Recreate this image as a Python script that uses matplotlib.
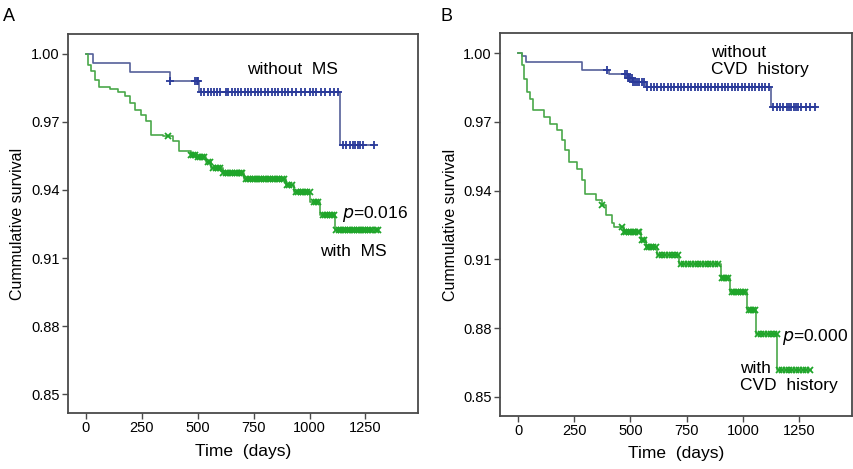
import numpy as np
import matplotlib
matplotlib.use("Agg")
import matplotlib.pyplot as plt

plt.rcParams['font.family'] = ['Liberation Sans', 'DejaVu Sans']

# ---- Panel A: metabolic syndrome ----
a_noms_t = [0, 30, 199, 377, 507, 1137, 1290]
a_noms_s = [1.0, 0.9960, 0.9920, 0.9879, 0.9830, 0.9596, 0.9596]
a_noms_cens = [377, 490, 495, 500, 515, 530, 545, 560, 575, 585, 600, 625, 635, 655, 665,
               680, 695, 710, 725, 740, 755, 770, 785, 800, 815, 830, 845, 860, 875, 890,
               905, 920, 940, 960, 980, 1000, 1015, 1030, 1050, 1070, 1090, 1110, 1128,
               1150, 1165, 1180, 1195, 1205, 1215, 1225, 1240, 1290]

a_ms_t = [0, 10, 25, 40, 59, 107, 144, 173, 196, 218, 248, 270, 292, 344, 388, 418, 470,
          492, 537, 559, 611, 707, 893, 930, 1004, 1048, 1112, 1308]
a_ms_s = [1.0, 0.9950, 0.9921, 0.9884, 0.9852, 0.9843, 0.9829, 0.9811, 0.9782, 0.9753,
          0.9731, 0.9701, 0.9643, 0.9635, 0.9613, 0.9570, 0.9555, 0.9545, 0.9523, 0.9496,
          0.9474, 0.9448, 0.9423, 0.9390, 0.9347, 0.9291, 0.9223, 0.9223]
a_ms_cens = [368, 470, 480, 490, 500, 510, 520, 530, 545, 555, 570, 580, 590, 600, 615, 625,
             635, 645, 655, 665, 675, 685, 695, 700, 715, 725, 735, 745, 755, 765, 775, 785,
             795, 805, 815, 825, 835, 845, 855, 865, 875, 885, 900, 910, 920, 940, 950, 960,
             970, 980, 990, 1000, 1020, 1030, 1040, 1060, 1070, 1080, 1090, 1100, 1110, 1120,
             1130, 1140, 1150, 1160, 1170, 1180, 1190, 1200, 1210, 1220, 1230, 1240, 1250,
             1260, 1270, 1280, 1295, 1308]

# ---- Panel B: CVD history ----
b_nocvd_t = [0, 18, 37, 286, 405, 487, 509, 567, 1125, 1326]
b_nocvd_s = [1.0, 0.9985, 0.9962, 0.9927, 0.9910, 0.9891, 0.9874, 0.9850, 0.9765, 0.9765]
b_nocvd_cens = [397, 475, 485, 490, 495, 500, 505, 510, 520, 530, 540, 550, 560, 575, 590,
                605, 620, 635, 650, 665, 680, 695, 710, 725, 740, 755, 770, 785, 800, 815,
                830, 845, 860, 875, 890, 905, 920, 935, 950, 965, 980, 995, 1010, 1025, 1040,
                1055, 1070, 1085, 1100, 1115, 1135, 1150, 1165, 1180, 1195, 1205, 1215, 1225,
                1235, 1245, 1260, 1280, 1300, 1320]

b_cvd_t = [0, 18, 25, 40, 55, 65, 115, 144, 174, 196, 211, 226, 263, 286, 300, 345, 375,
           390, 420, 427, 472, 545, 567, 619, 716, 902, 943, 1018, 1058, 1152, 1303]
b_cvd_s = [1.0, 0.9946, 0.9888, 0.9830, 0.9801, 0.9750, 0.9721, 0.9692, 0.9663, 0.9619,
           0.9576, 0.9525, 0.9496, 0.9445, 0.9387, 0.9358, 0.9336, 0.9293, 0.9257, 0.9242,
           0.9221, 0.9183, 0.9154, 0.9120, 0.9078, 0.9019, 0.8958, 0.8878, 0.8773, 0.8616,
           0.8616]
b_cvd_cens = [375, 462, 472, 482, 492, 502, 512, 522, 532, 540, 550, 560, 572, 582, 592,
              602, 612, 625, 640, 655, 670, 685, 700, 710, 725, 740, 755, 770, 785, 800,
              815, 830, 845, 860, 875, 890, 905, 915, 925, 935, 950, 960, 970, 980, 990,
              1000, 1010, 1025, 1035, 1045, 1055, 1065, 1080, 1095, 1110, 1125, 1140, 1150,
              1160, 1175, 1190, 1205, 1220, 1235, 1250, 1265, 1280, 1300]

BLUE_LINE = '#55609a'
BLUE_MARK = '#2a3a9a'
GREEN_LINE = '#4aa84a'
GREEN_MARK = '#1fa52a'
SPINE = '#4a4a4a'


def surv_at(times, surv, t):
    i = np.searchsorted(times, t, side='right') - 1
    return np.asarray(surv)[i]


def draw_km(ax, t, s, cens, lc, mc, marker, ms):
    ax.step(t, s, where='post', color=lc, lw=1.2, zorder=2)
    cy = [surv_at(t, s, c) for c in cens]
    ax.plot(cens, cy, ls='none', marker=marker, ms=ms, mew=1.3, color=mc, zorder=3)


def style_ax(ax):
    ax.set_xlim(-80, 1485)
    ax.set_ylim(0.8418, 1.0086)
    ax.set_xticks([0, 250, 500, 750, 1000, 1250])
    ax.set_yticks([0.85, 0.88, 0.91, 0.94, 0.97, 1.00])
    ax.set_yticklabels(['0.85', '0.88', '0.91', '0.94', '0.97', '1.00'])
    ax.tick_params(axis='both', direction='out', length=4, width=1, color=SPINE,
                   labelsize=10.5, pad=2)
    for sp in ax.spines.values():
        sp.set_color(SPINE)
        sp.set_linewidth(1.3)
    ax.set_xlabel('Time  (days)', fontsize=12.5, labelpad=6)
    ax.set_ylabel('Cummulative survival', fontsize=11.5, labelpad=4)


fig = plt.figure(figsize=(8.54, 4.69), dpi=100)
axA = fig.add_axes([0.0796, 0.1194, 0.4099, 0.8081])
axB = fig.add_axes([0.5855, 0.1136, 0.4122, 0.8154])

draw_km(axA, a_noms_t, a_noms_s, a_noms_cens, BLUE_LINE, BLUE_MARK, '+', 5.5)
draw_km(axA, a_ms_t, a_ms_s, a_ms_cens, GREEN_LINE, GREEN_MARK, 'x', 4)
style_ax(axA)
axA.text(720, 0.9928, 'without  MS', fontsize=12.5, va='center', ha='left')
axA.text(1143, 0.9292, r'$\it{p}$=0.016', fontsize=12.5, va='center', ha='left')
axA.text(1045, 0.9129, 'with  MS', fontsize=12.5, va='center', ha='left')

draw_km(axB, b_nocvd_t, b_nocvd_s, b_nocvd_cens, BLUE_LINE, BLUE_MARK, '+', 5.5)
draw_km(axB, b_cvd_t, b_cvd_s, b_cvd_cens, GREEN_LINE, GREEN_MARK, 'x', 4)
style_ax(axB)
axB.text(856, 0.9966, 'without\nCVD  history', fontsize=12.5, va='center', ha='left',
         linespacing=1.15)
axB.text(1174, 0.876, r'$\it{p}$=0.000', fontsize=12.5, va='center', ha='left')
axB.text(987, 0.8588, 'with\nCVD  history', fontsize=12.5, va='center', ha='left',
         linespacing=1.15)

fig.text(0.004, 0.965, 'A', fontsize=13, va='center', ha='left')
fig.text(0.516, 0.965, 'B', fontsize=13, va='center', ha='left')

fig.savefig('out.png', dpi=100)
